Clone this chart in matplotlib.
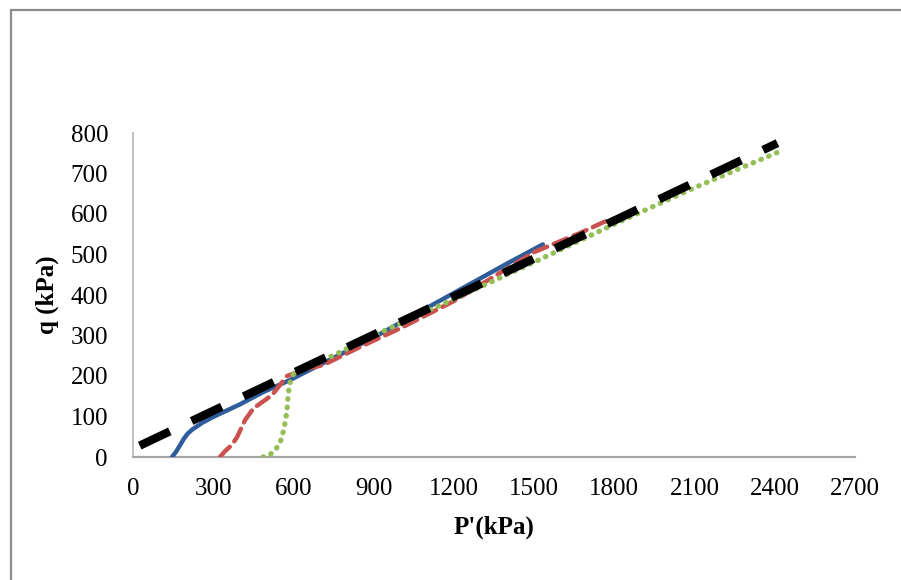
import matplotlib
matplotlib.use("Agg")
from matplotlib import pyplot as plt
from matplotlib.patches import Rectangle

# critical state line (dashed black)
csl_p = [25, 2410]
csl_q = [28, 775]

# test 1 (blue)
t1_p = [146, 160, 175, 190, 205, 220, 260, 300, 400, 486, 587, 700, 900, 1200, 1400, 1533]
t1_q = [0, 12, 28, 45, 58, 67, 85, 99, 130, 160, 190, 228, 295, 405, 478, 525]

# test 2 (red)
t2_p = [325, 345, 370, 389, 419, 450, 520, 576, 650, 711, 850, 1000, 1200, 1500, 1672, 1760, 1840]
t2_q = [0, 15, 30, 49, 91, 120, 153, 200, 218, 227, 272, 318, 385, 506, 553, 580, 595]

# test 3 (green)
t3_p = [486, 510, 530, 550, 565, 575, 580, 585, 600, 700, 900, 1200, 1500, 1800, 2100, 2410]
t3_q = [0, 5, 15, 35, 70, 110, 150, 180, 205, 235, 300, 390, 481, 575, 665, 752]

xticks = [0, 300, 600, 900, 1200, 1500, 1800, 2100, 2400, 2700]
yticks = [0, 100, 200, 300, 400, 500, 600, 700, 800]

plt.rcParams['font.family'] = ['Liberation Serif', 'DejaVu Serif']

W, H = 901, 580
fig = plt.figure(figsize=(W / 100, H / 100), dpi=100)
ax = fig.add_axes([133 / W, (H - 457) / H, (855 - 133) / W, (457 - 133) / H])

# outer chart border (only left and top visible in the crop)
fig.add_artist(Rectangle((11 / W, -0.2), 1.5, 1.2 - 10 / H, transform=fig.transFigure,
                         fill=False, edgecolor='#8c8c8c', linewidth=1.6))

ax.plot(t1_p, t1_q, color='#2f5d9b', linewidth=3.2, solid_capstyle='round', zorder=3)
ax.plot(t2_p, t2_q, color='#c9524f', linewidth=3.2, dashes=(3.2, 1.6),
        dash_capstyle='round', zorder=3)
ax.plot(t3_p, t3_q, color='#94be56', linewidth=3.8, dashes=(0.1, 1.5),
        dash_capstyle='round', zorder=3)
ax.plot(csl_p, csl_q, color='black', linewidth=6, dashes=(4.0, 2.9), zorder=4)

ax.set_xlim(0, 2700)
ax.set_ylim(0, 800)
ax.set_xticks(xticks)
ax.set_yticks(yticks)
ax.tick_params(length=0, labelsize=18, colors='black')
ax.tick_params(axis='y', pad=18)
ax.tick_params(axis='x', pad=15)

for side in ['top', 'right']:
    ax.spines[side].set_visible(False)
ax.spines['left'].set_color('#bcbcbc')
ax.spines['bottom'].set_color('#a6a6a6')
ax.spines['left'].set_linewidth(1.3)
ax.spines['bottom'].set_linewidth(1.6)

ax.set_xlabel("P'(kPa)", fontsize=18, fontweight='bold', labelpad=11)
ax.set_ylabel("q (kPa)", fontsize=18, fontweight='bold', labelpad=8)

fig.savefig("out.png", dpi=100)
